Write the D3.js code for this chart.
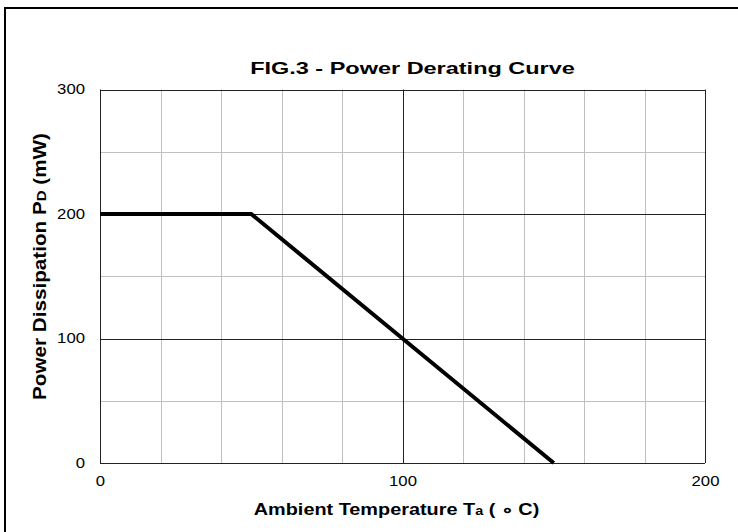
<!DOCTYPE html>
<html>
<head>
<meta charset="utf-8">
<script src="https://cdn.jsdelivr.net/npm/d3@7"></script>
<style>
  body{margin:0;background:#fff;}
  svg text{font-family:"Liberation Sans",Arial,sans-serif;fill:#000;}
</style>
</head>
<body>
<div id="chart"></div>
<script>
// derating curve points (temperature in C, power in mW)
const tempC=[0,50,150]
const powerMW=[200,200,0]
const xTicks=[0,100,200]
const yTicks=[0,100,200,300]
const xMinor=[20,40,60,80,120,140,160,180]
const yMinor=[50,150,250]

const width=738, height=532
const margin={left:100,right:33,top:89.5,bottom:69}

const svg=d3.select("#chart").append("svg").attr("width",width).attr("height",height)

// outer frame (only left/top visible in the picture)
svg.append("rect").attr("x",5).attr("y",8).attr("width",800).attr("height",600)
  .attr("fill","none").attr("stroke","#000").attr("stroke-width",2)

const x=d3.scaleLinear().domain([0,200]).range([margin.left,width-margin.right])
const y=d3.scaleLinear().domain([0,300]).range([height-margin.bottom,margin.top])

// minor grid
svg.append("g").selectAll("line").data(xMinor).enter().append("line")
  .attr("x1",d=>Math.round(x(d))+0.5).attr("x2",d=>Math.round(x(d))+0.5)
  .attr("y1",y(0)).attr("y2",y(300)).attr("stroke","#c0c0c0")
svg.append("g").selectAll("line").data(yMinor).enter().append("line")
  .attr("y1",d=>Math.round(y(d))+0.5).attr("y2",d=>Math.round(y(d))+0.5)
  .attr("x1",x(0)).attr("x2",x(200)).attr("stroke","#c0c0c0")

// major grid
svg.append("g").selectAll("line").data(xTicks).enter().append("line")
  .attr("x1",d=>Math.round(x(d))+0.5).attr("x2",d=>Math.round(x(d))+0.5)
  .attr("y1",y(0)).attr("y2",y(300)).attr("stroke","#222")
svg.append("g").selectAll("line").data(yTicks).enter().append("line")
  .attr("y1",d=>Math.round(y(d))+0.5).attr("y2",d=>Math.round(y(d))+0.5)
  .attr("x1",x(0)).attr("x2",x(200)).attr("stroke","#222")

// tick labels, the original font is drawn a bit wide so stretch it
const xAxis=d3.axisBottom(x).tickValues(xTicks).tickSize(0).tickPadding(13)
const yAxis=d3.axisLeft(y).tickValues(yTicks).tickSize(0).tickPadding(15)
function wideTicks(g){
  g.select(".domain").remove()
  g.selectAll("text").attr("font-size",14).attr("font-family","Liberation Sans, Arial, sans-serif")
    .attr("lengthAdjust","spacingAndGlyphs").attr("textLength",d=>String(d).length*9.3)
}
svg.append("g").attr("transform",`translate(0,${y(0)})`).call(xAxis).call(wideTicks)
svg.append("g").attr("transform",`translate(${x(0)},0)`).call(yAxis).call(wideTicks)

// the curve
const line=d3.line().x((d,i)=>x(tempC[i])).y(d=>y(d))
svg.append("path").datum(powerMW).attr("d",line)
  .attr("fill","none").attr("stroke","#000").attr("stroke-width",4)

// stretch a text horizontally around its centre to a target width
function stretchText(t,cx,cy,w,rot){
  const len=t.node().getComputedTextLength()
  t.attr("transform",`translate(${cx},${cy}) rotate(${rot}) scale(${w/len},1)`)
}

const title=svg.append("text").attr("text-anchor","middle")
  .attr("font-size",16).attr("font-weight","bold").text("FIG.3 - Power Derating Curve")
stretchText(title,412.5,74,325,0)

const xt=svg.append("text").attr("text-anchor","middle")
  .attr("font-size",16.5).attr("font-weight","bold")
xt.append("tspan").text("Ambient Temperature T")
xt.append("tspan").attr("font-size",12).text("a")
xt.append("tspan").text(" ( \u2218 C)")
stretchText(xt,396.5,515,287,0)

const yt=svg.append("text").attr("text-anchor","middle")
  .attr("font-size",18).attr("font-weight","bold")
yt.append("tspan").text("Power Dissipation P")
yt.append("tspan").attr("font-size",13).text("D")
yt.append("tspan").text(" (mW)")
stretchText(yt,46,266.5,267,-90)
</script>
</body>
</html>
